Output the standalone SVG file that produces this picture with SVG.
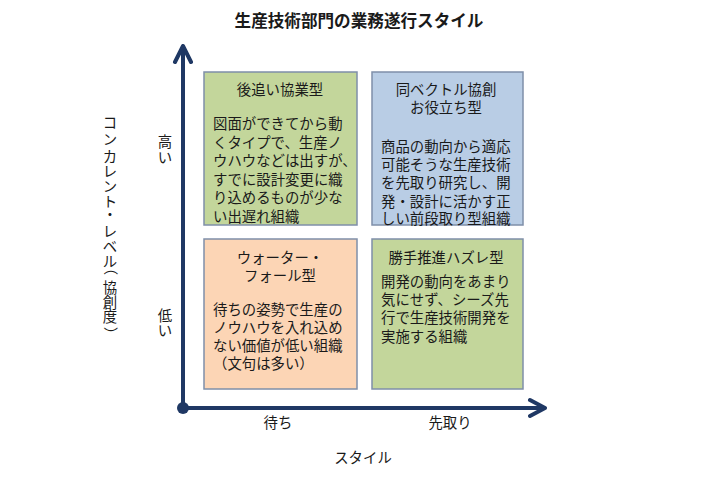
<svg xmlns="http://www.w3.org/2000/svg" width="720" height="498" viewBox="0 0 720 498">
<style>
text{font-family:"Noto Sans CJK JP","Noto Sans",sans-serif;fill:#1a1a1a;}
.t{font-size:14.4px;}
.c{text-anchor:middle;}
.box{stroke:#7f8fa9;stroke-width:1.5;}
.ax{stroke:#1f3864;stroke-width:4;fill:none;stroke-linecap:round;stroke-linejoin:round;}
</style>
<rect width="720" height="498" fill="#ffffff"/>
<text x="359" y="27" class="c" style="font-size:16.6px;font-weight:bold">生産技術部門の業務遂行スタイル</text>

<g id="connectors">
<path class="ax" d="M183,409 V46 M175,62 L183,46 L191,62"/>
<path class="ax" d="M183,408 H545 M530,400 L545,408 L530,416"/>
<circle cx="183" cy="408" r="6" fill="#1f3864"/>
</g>

<g id="node-tl">
<rect class="box" x="204" y="72" width="153" height="153" fill="#c3d69b"/>
<text class="t c" x="280" y="95">後追い協業型</text>
<text class="t" x="213" y="129">図面ができてから動</text>
<text class="t" x="213" y="147.6">くタイプで、生産ノ</text>
<text class="t" x="213" y="166.2">ウハウなどは出すが、</text>
<text class="t" x="213" y="184.8">すでに設計変更に織</text>
<text class="t" x="213" y="203.4">り込めるものが少な</text>
<text class="t" x="213" y="222">い出遅れ組織</text>
</g>

<g id="node-tr">
<rect class="box" x="372" y="72" width="151" height="153" fill="#b9cde5"/>
<text class="t c" x="446" y="95">同ベクトル協創</text>
<text class="t c" x="446" y="113">お役立ち型</text>
<text class="t" x="381" y="152">商品の動向から適応</text>
<text class="t" x="381" y="170">可能そうな生産技術</text>
<text class="t" x="381" y="188">を先取り研究し、開</text>
<text class="t" x="381" y="206.5">発・設計に活かす正</text>
<text class="t" x="381" y="224">しい前段取り型組織</text>
</g>

<g id="node-bl">
<rect class="box" x="204" y="239" width="153" height="150" fill="#fcd5b5"/>
<text class="t c" x="280" y="263">ウォーター・</text>
<text class="t c" x="280" y="280.5">フォール型</text>
<text class="t" x="213" y="315">待ちの姿勢で生産の</text>
<text class="t" x="213" y="333">ノウハウを入れ込め</text>
<text class="t" x="213" y="351">ない価値が低い組織</text>
<text class="t" x="213" y="369">（文句は多い）</text>
</g>

<g id="node-br">
<rect class="box" x="372" y="239" width="151" height="150" fill="#c3d69b"/>
<text class="t c" x="446" y="263">勝手推進ハズレ型</text>
<text class="t" x="381" y="287">開発の動向をあまり</text>
<text class="t" x="381" y="305">気にせず、シーズ先</text>
<text class="t" x="381" y="323">行で生産技術開発を</text>
<text class="t" x="381" y="341.5">実施する組織</text>
</g>

<g id="labels">
<text class="t c" x="165" y="147">高</text>
<text class="t c" x="165" y="163">い</text>
<text class="t c" x="165" y="321">低</text>
<text class="t c" x="165" y="336">い</text>
<g id="y-title">
<text class="t c" x="110" y="128">コ</text>
<text class="t c" x="110" y="145">ン</text>
<text class="t c" x="110" y="162">カ</text>
<text class="t c" x="110" y="177">レ</text>
<text class="t c" x="110" y="192">ン</text>
<text class="t c" x="110" y="207">ト</text>
<text class="t c" x="110" y="220">・</text>
<text class="t c" x="110" y="237">レ</text>
<text class="t c" x="110" y="252">ベ</text>
<text class="t c" x="110" y="267">ル</text>
<text class="t c" x="110" y="273" transform="rotate(90 110 268)">（</text>
<text class="t c" x="110" y="293">協</text>
<text class="t c" x="110" y="308">創</text>
<text class="t c" x="110" y="322">度</text>
<text class="t c" x="110" y="339" transform="rotate(90 110 334)">）</text>
</g>
<text class="t c" x="278" y="428">待ち</text>
<text class="t c" x="450" y="428">先取り</text>
<text class="t c" x="363" y="463">スタイル</text>
</g>
</svg>
